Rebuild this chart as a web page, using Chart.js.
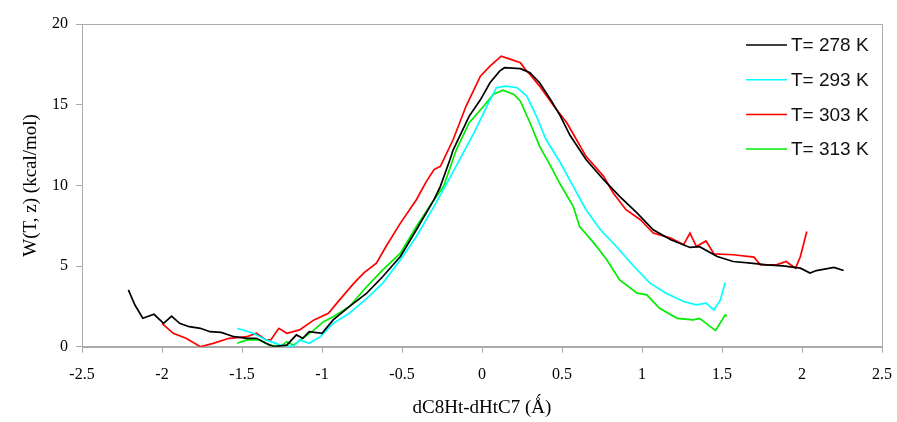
<!DOCTYPE html>
<html>
<head>
<meta charset="utf-8">
<script src="https://cdn.jsdelivr.net/npm/chart.js@4.4.1/dist/chart.umd.min.js"></script>
<style>
  html, body { margin: 0; padding: 0; background: #fff; }
  #wrap { width: 897px; height: 422px; }
</style>
</head>
<body>
<div id="wrap"><canvas id="chart"></canvas></div>
<script>
const labels = ['T= 278 K', 'T= 293 K', 'T= 303 K', 'T= 313 K'];
const colors = ['#000000', '#00ffff', '#ff0000', '#00ee00'];

const x278 = [-2.21,-2.17,-2.12,-2.05,-1.99,-1.94,-1.89,-1.83,-1.76,-1.70,-1.63,-1.55,-1.47,-1.41,-1.35,-1.30,-1.22,-1.16,-1.12,-1.08,-1.00,-0.93,-0.83,-0.72,-0.62,-0.51,-0.41,-0.30,-0.26,-0.20,-0.18,-0.08,-0.01,0.05,0.11,0.14,0.24,0.30,0.36,0.43,0.49,0.55,0.65,0.76,0.86,0.97,1.07,1.18,1.30,1.36,1.47,1.57,1.68,1.78,1.88,1.99,2.05,2.09,2.20,2.26];
const w278 = [3.52,2.6,1.76,2.01,1.45,1.90,1.45,1.24,1.14,0.93,0.89,0.62,0.52,0.52,0.21,0.0,0.10,0.73,0.52,0.93,0.83,1.66,2.48,3.32,4.35,5.59,7.25,9.11,9.94,11.6,12.2,14.29,15.3,16.36,17.08,17.29,17.23,16.98,16.36,15.3,14.29,13.1,11.6,10.35,9.32,8.28,7.25,6.63,6.15,6.2,5.59,5.28,5.18,5.07,5.01,4.87,4.56,4.72,4.91,4.72];

const x293 = [-1.53,-1.43,-1.35,-1.26,-1.18,-1.14,-1.08,-1.01,-0.93,-0.83,-0.72,-0.62,-0.51,-0.41,-0.30,-0.23,-0.14,-0.05,0.03,0.09,0.15,0.22,0.28,0.34,0.40,0.49,0.57,0.65,0.74,0.84,0.95,1.05,1.15,1.26,1.34,1.40,1.45,1.49,1.52];
const w293 = [1.14,0.83,0.42,0.10,0.0,0.42,0.21,0.62,1.45,2.07,3.0,3.94,5.39,6.83,8.7,9.94,11.6,13.25,14.9,16.05,16.15,16.05,15.53,14.29,12.84,11.4,9.94,8.49,7.25,6.21,4.97,3.94,3.32,2.80,2.59,2.70,2.28,2.9,3.98];

const x303 = [-2.00,-1.93,-1.85,-1.76,-1.68,-1.58,-1.47,-1.41,-1.35,-1.32,-1.27,-1.22,-1.14,-1.05,-0.96,-0.89,-0.80,-0.74,-0.66,-0.60,-0.51,-0.41,-0.35,-0.30,-0.26,-0.18,-0.10,-0.01,0.05,0.12,0.18,0.24,0.27,0.30,0.36,0.45,0.53,0.59,0.65,0.76,0.82,0.90,0.99,1.07,1.18,1.26,1.30,1.34,1.40,1.45,1.57,1.70,1.74,1.84,1.90,1.96,1.99,2.03];
const w303 = [1.45,0.83,0.52,0.0,0.21,0.52,0.62,0.83,0.42,0.42,1.14,0.83,1.04,1.66,2.07,2.9,3.94,4.56,5.18,6.21,7.66,9.11,10.2,10.98,11.18,12.84,14.9,16.77,17.39,18.01,17.81,17.6,17.19,16.88,16.15,14.9,13.88,12.84,11.8,10.56,9.53,8.49,7.87,7.04,6.73,6.32,7.04,6.21,6.55,5.75,5.7,5.55,5.07,5.07,5.28,4.87,5.59,7.14];

const x313 = [-1.53,-1.47,-1.39,-1.33,-1.26,-1.22,-1.18,-1.12,-1.05,-0.99,-0.93,-0.83,-0.72,-0.62,-0.51,-0.41,-0.30,-0.24,-0.16,-0.08,0.01,0.07,0.13,0.20,0.24,0.30,0.36,0.43,0.49,0.57,0.61,0.70,0.78,0.86,0.97,1.03,1.11,1.22,1.32,1.36,1.46,1.52,1.53];
const w313 = [0.21,0.42,0.42,0.10,0.0,0.31,0.10,0.52,1.04,1.55,1.86,2.48,3.73,4.76,5.8,7.45,9.11,9.94,12.22,13.88,14.9,15.63,15.9,15.63,15.22,13.88,12.42,11.18,10.05,8.7,7.45,6.42,5.39,4.14,3.32,3.21,2.38,1.76,1.66,1.76,1.0,1.97,1.9];

const xTitle = 'dC8Ht-dHtC7 (Ǻ)';
const yTitle = 'W(T, z) (kcal/mol)';

const series = [[x278, w278], [x293, w293], [x303, w303], [x313, w313]];
const pts = (xs, ys) => xs.map((x, i) => ({ x: x, y: ys[i] }));

const frame = {
  id: 'frame',
  afterDraw(chart) {
    const { ctx, chartArea: a } = chart;
    ctx.save();
    ctx.strokeStyle = '#aaaaaa';
    ctx.lineWidth = 1;
    ctx.strokeRect(Math.round(a.left) + 0.5, Math.round(a.top) + 0.5,
      Math.round(a.right - a.left), Math.round(a.bottom - a.top));
    // legend inside the plot, top right
    ctx.font = '19px "Liberation Sans", Arial, sans-serif';
    ctx.textBaseline = 'middle';
    chart.data.datasets.forEach((ds, i) => {
      const y = 45 + i * 34.7;
      ctx.strokeStyle = ds.borderColor;
      ctx.lineWidth = 1.5;
      ctx.beginPath();
      ctx.moveTo(746, y);
      ctx.lineTo(787, y);
      ctx.stroke();
      ctx.fillStyle = '#111';
      ctx.fillText(ds.label, 791, y + 1);
    });
    ctx.restore();
  }
};

const serif = '"Liberation Serif", "Times New Roman", serif';
const fmt = (v) => String(+v.toFixed(2));

new Chart(document.getElementById('chart'), {
  type: 'scatter',
  plugins: [frame],
  data: {
    datasets: series.map((s, i) => ({
      label: labels[i],
      data: pts(s[0], s[1]),
      showLine: true,
      borderColor: colors[i],
      backgroundColor: colors[i],
      borderWidth: 1.7,
      pointRadius: 0,
      tension: 0
    }))
  },
  options: {
    responsive: true,
    maintainAspectRatio: false,
    animation: false,
    layout: { padding: { left: 0, right: 15, top: 24, bottom: 0 } },
    plugins: { legend: { display: false }, tooltip: { enabled: false } },
    scales: {
      x: {
        type: 'linear',
        min: -2.5, max: 2.5,
        afterFit: (s) => { s.height = 75.3; s.paddingRight = 0; s.paddingLeft = 0; },
        ticks: {
          stepSize: 0.5,
          padding: 12,
          color: '#000',
          font: { family: serif, size: 16 },
          maxRotation: 0,
          callback: fmt
        },
        grid: { drawOnChartArea: false, tickLength: 6, color: '#aaaaaa' },
        border: { color: '#aaaaaa' },
        title: {
          display: true, text: xTitle, color: '#000',
          font: { family: serif, size: 19 },
          padding: { top: 0, bottom: 3 }
        }
      },
      y: {
        min: 0, max: 20,
        afterFit: (s) => { s.width = 82; },
        ticks: {
          stepSize: 5,
          padding: 8,
          color: '#000',
          font: { family: serif, size: 16 },
          callback: fmt
        },
        grid: { drawOnChartArea: false, tickLength: 6, color: '#aaaaaa' },
        border: { color: '#aaaaaa' },
        title: {
          display: true, text: yTitle, color: '#000',
          font: { family: serif, size: 19 },
          padding: { top: 20, bottom: 0 }
        }
      }
    }
  }
});
</script>
</body>
</html>
